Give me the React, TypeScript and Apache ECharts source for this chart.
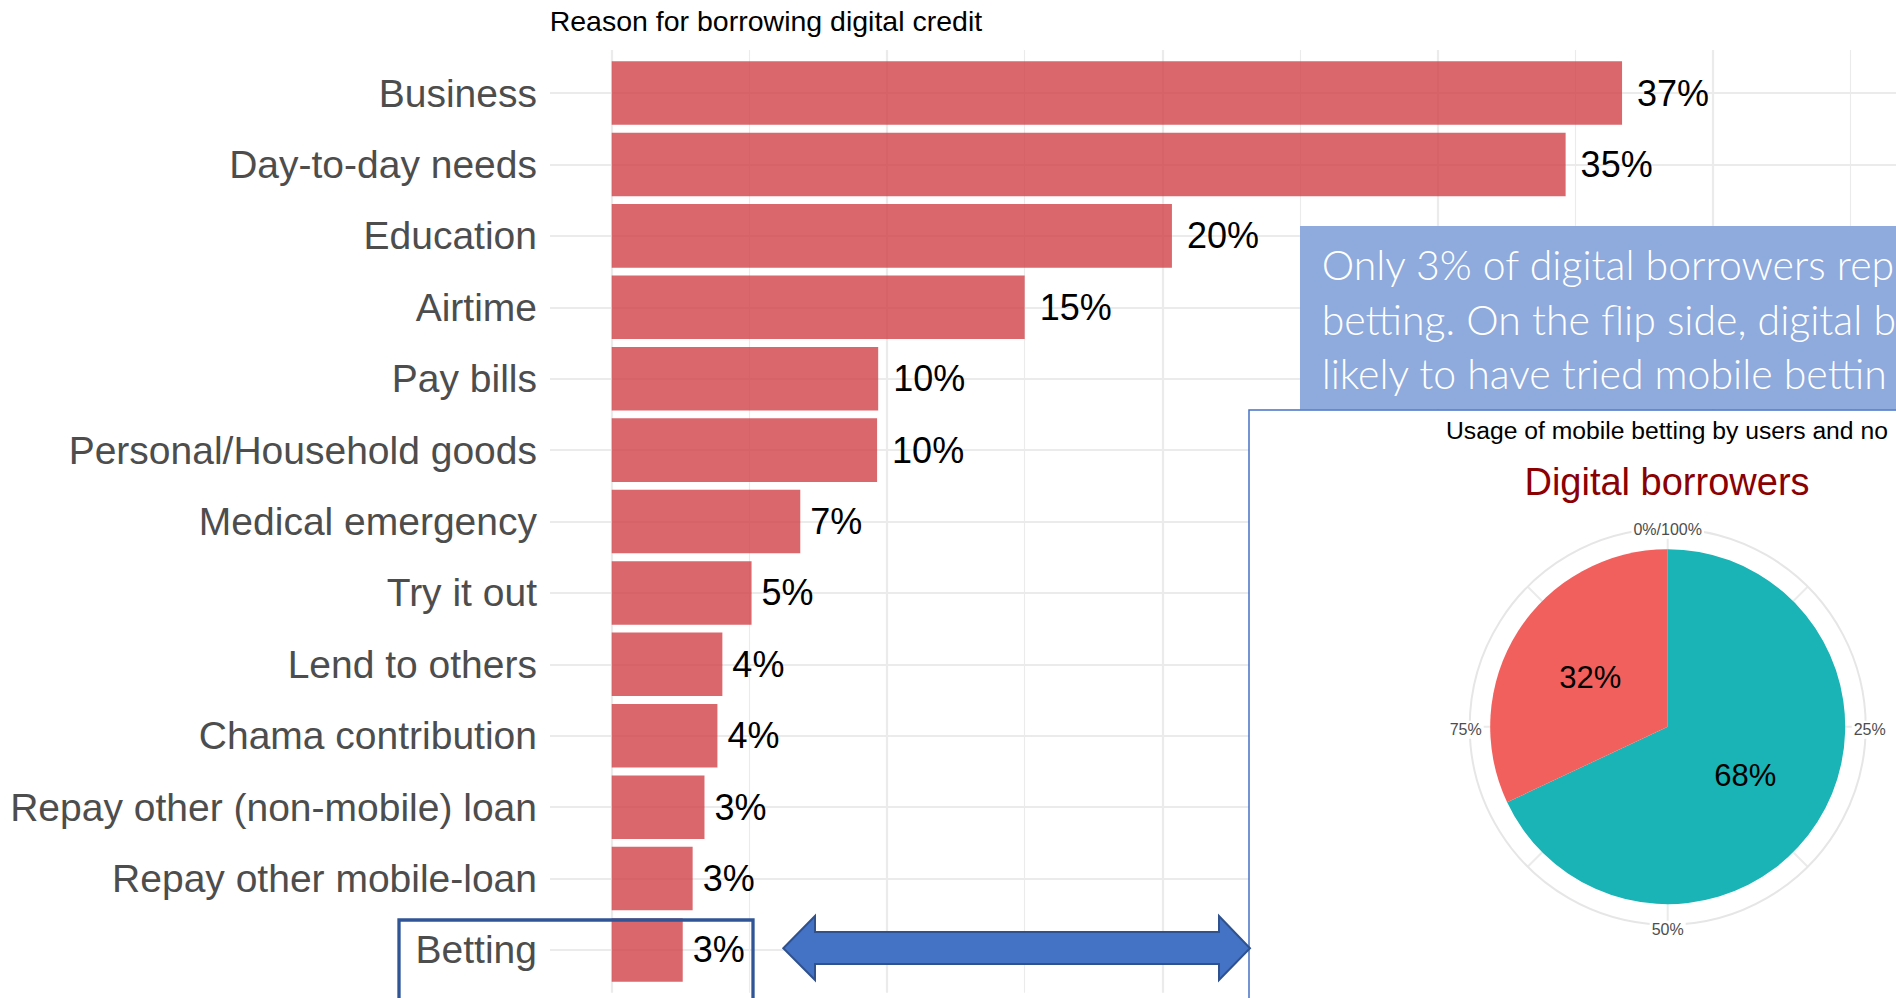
import React, { useEffect, useRef } from "react";
import * as echarts from "echarts";

// ---------- data ----------
const reasons = [
  "Business",
  "Day-to-day needs",
  "Education",
  "Airtime",
  "Pay bills",
  "Personal/Household goods",
  "Medical emergency",
  "Try it out",
  "Lend to others",
  "Chama contribution",
  "Repay other (non-mobile) loan",
  "Repay other mobile-loan",
  "Betting",
];
const shares = [36.7, 34.65, 20.35, 15.0, 9.68, 9.64, 6.85, 5.08, 4.02, 3.84, 3.37, 2.94, 2.58];

const pieNames = ["Has not used mobile betting", "Has used mobile betting"];
const pieValues = [68, 32];
const pieColors = ["#1AB3B6", "#F1605C"];
const angleTickLabels = ["0%/100%", "25%", "50%", "75%"];

const chartTitle = "Reason for borrowing digital credit";
const insetTitle = "Usage of mobile betting by users and no";
const insetSubtitle = "Digital borrowers";
const noteLines = [
  "Only 3% of digital borrowers rep",
  "betting. On the flip side, digital b",
  "likely to have tried mobile bettin",
];

const FONT = '"Liberation Sans", Arial, Helvetica, sans-serif';
const GRID_COLOR = "#EBEBEB";

export default function App() {
  const ref = useRef<HTMLDivElement>(null);

  useEffect(() => {
    if (!ref.current) return;
    const chart = echarts.init(ref.current, undefined, { renderer: "svg" });

    const x0 = 611.7; // pixel of 0%
    const pxPerPct = 27.53;
    const xMax = 50;
    const gridRight = 1896 - (x0 + xMax * pxPerPct);
    const rowStep = 71.41;
    const firstCenter = 93.06;
    const lastCenter = firstCenter + rowStep * (reasons.length - 1);

    const pieCenter = [1667.7, 726.7];
    const polarRadius = 198;

    const angleBase = {
      type: "value",
      min: 0,
      max: 100,
      interval: 25,
      startAngle: 90,
      clockwise: true,
    };

    const option: any = {
      animation: false,
      backgroundColor: "#ffffff",
      grid: [
        {
          left: x0,
          right: gridRight,
          top: firstCenter - rowStep / 2,
          height: rowStep * reasons.length,
          containLabel: false,
          outerBoundsMode: "none",
        },
        {
          left: x0,
          right: gridRight,
          top: 50,
          bottom: 998 - (lastCenter + 0.6 * rowStep),
          containLabel: false,
          outerBoundsMode: "none",
        },
        {
          left: 550,
          right: 0,
          top: firstCenter,
          bottom: 998 - lastCenter,
          containLabel: false,
          outerBoundsMode: "none",
        },
      ],
      xAxis: [
        { gridIndex: 0, type: "value", min: 0, max: xMax, show: false },
        {
          gridIndex: 1,
          type: "value",
          min: 0,
          max: xMax,
          interval: 10,
          axisLine: { show: false },
          axisTick: { show: false },
          axisLabel: { show: false },
          splitLine: { show: true, lineStyle: { color: GRID_COLOR, width: 2.2 } },
          minorTick: { show: false, splitNumber: 2 },
          minorSplitLine: { show: true, lineStyle: { color: GRID_COLOR, width: 1.1 } },
          z: 0,
        },
        { gridIndex: 2, type: "value", min: 0, max: 1, show: false },
      ],
      yAxis: [
        {
          gridIndex: 0,
          type: "category",
          inverse: true,
          data: reasons,
          axisLine: { show: false },
          axisTick: { show: false },
          splitLine: { show: false },
          axisLabel: {
            interval: 0,
            margin: x0 - 537,
            fontSize: 39,
            color: "#4D4D4D",
            fontFamily: FONT,
          },
        },
        { gridIndex: 1, type: "value", show: false },
        {
          gridIndex: 2,
          type: "category",
          inverse: true,
          boundaryGap: false,
          data: reasons,
          axisLine: { show: false },
          axisTick: { show: false },
          axisLabel: { show: false },
          splitLine: { show: true, interval: 0, lineStyle: { color: GRID_COLOR, width: 2.2 } },
          z: 0,
        },
      ],
      polar: [
        { center: pieCenter, radius: [0, polarRadius] },
        { center: pieCenter, radius: [0, polarRadius] },
      ],
      angleAxis: [
        {
          ...angleBase,
          polarIndex: 0,
          z: 4,
          axisLine: { show: true, lineStyle: { color: "#E6E6E6", width: 2 } },
          axisTick: { show: false },
          axisLabel: { show: false },
          splitLine: { show: true, lineStyle: { color: GRID_COLOR, width: 2 } },
          minorTick: { show: false, splitNumber: 2 },
          minorSplitLine: { show: true, lineStyle: { color: GRID_COLOR, width: 2 } },
        },
        {
          ...angleBase,
          polarIndex: 1,
          z: 6,
          axisLine: { show: false },
          axisTick: { show: false },
          splitLine: { show: false },
          axisLabel: {
            show: true,
            margin: -16,
            padding: [12, 2, 6, 2],
            fontSize: 16,
            color: "#4D4D4D",
            fontFamily: FONT,
            formatter: (v: number) => {
              const t = v >= 100 ? "" : angleTickLabels[Math.round(v / 25)] ?? "";
              return t ? `{t|${t}}` : "";
            },
            rich: {
              t: {
                fontSize: 16,
                color: "#4D4D4D",
                fontFamily: FONT,
                backgroundColor: "#ffffff",
                padding: [1, 2],
              },
            },
          },
        },
      ],
      radiusAxis: [
        { polarIndex: 0, type: "value", min: 0, max: 1, show: false },
        { polarIndex: 1, type: "value", min: 0, max: 1, show: false },
      ],
      series: [
        {
          type: "bar",
          xAxisIndex: 0,
          yAxisIndex: 0,
          data: shares.map((v) => ({
            value: v,
            label: { distance: String(Math.round(v)).length > 1 ? 15 : 10 },
          })),
          barWidth: "89%",
          silent: true,
          itemStyle: { color: "rgba(206,60,66,0.78)" },
          label: {
            show: true,
            position: "right",
            distance: 10,
            fontSize: 36,
            color: "#000000",
            fontFamily: FONT,
            formatter: (p: any) => `${Math.round(p.value)}%`,
          },
          z: 2,
        },
        {
          type: "pie",
          center: pieCenter,
          radius: [0, 177.5],
          startAngle: 90,
          clockwise: true,
          silent: true,
          z: 5,
          itemStyle: { borderWidth: 0 },
          labelLine: { show: false },
          label: {
            show: true,
            position: "inside",
            fontSize: 31,
            color: "#000000",
            fontFamily: FONT,
            formatter: (p: any) => `${p.value}%`,
          },
          emphasis: { disabled: true },
          data: pieValues.map((v, i) => ({
            value: v,
            name: pieNames[i],
            itemStyle: { color: pieColors[i] },
          })),
        },
      ],
      graphic: {
        elements: [
          {
            type: "text",
            z: 6,
            style: {
              text: chartTitle,
              x: 549.7,
              y: 21.2,
              align: "left",
              verticalAlign: "middle",
              fill: "#000000",
              fontSize: 28.5,
              fontFamily: FONT,
            },
          },
          {
            type: "rect",
            z: 3,
            shape: { x: 1300, y: 226, width: 700, height: 183.5 },
            style: { fill: "#8FAADC" },
          },
          {
            type: "rect",
            z: 3,
            shape: { x: 1249, y: 410, width: 700, height: 700 },
            style: { fill: "#ffffff", stroke: "#4472C4", lineWidth: 1.5 },
          },
          ...noteLines.map((t, i) => ({
            type: "text",
            z: 6,
            style: {
              text: t,
              x: 1321.7,
              y: 264.3 + i * 54.7,
              align: "left",
              verticalAlign: "middle",
              fill: "#ffffff",
              fontSize: 41,
              fontWeight: 300,
              fontFamily: "Lato, 'Open Sans', sans-serif",
            },
          })),
          {
            type: "text",
            z: 6,
            style: {
              text: insetTitle,
              x: 1446,
              y: 430.5,
              align: "left",
              verticalAlign: "middle",
              fill: "#000000",
              fontSize: 24.7,
              fontFamily: FONT,
            },
          },
          {
            type: "text",
            z: 6,
            style: {
              text: insetSubtitle,
              x: 1667,
              y: 482.2,
              align: "center",
              verticalAlign: "middle",
              fill: "#8B0000",
              fontSize: 38,
              fontFamily: FONT,
            },
          },
          {
            type: "rect",
            z: 6,
            shape: { x: 399, y: 920, width: 354, height: 140 },
            style: { fill: "transparent", stroke: "#2F5597", lineWidth: 3.3 },
          },
          {
            type: "polygon",
            z: 6,
            shape: {
              points: [
                [783.3, 948.3],
                [815, 916],
                [815, 932],
                [1219, 932],
                [1219, 916],
                [1250, 948.3],
                [1219, 980],
                [1219, 964],
                [815, 964],
                [815, 980],
              ],
            },
            style: { fill: "#4472C4", stroke: "#2F528F", lineWidth: 2 },
          },
        ],
      },
    };

    chart.setOption(option);
    return () => chart.dispose();
  }, []);

  return (
    <div
      ref={ref}
      style={{
        position: "fixed",
        left: 0,
        top: 0,
        width: 1896,
        height: 998,
        background: "#ffffff",
      }}
    />
  );
}
